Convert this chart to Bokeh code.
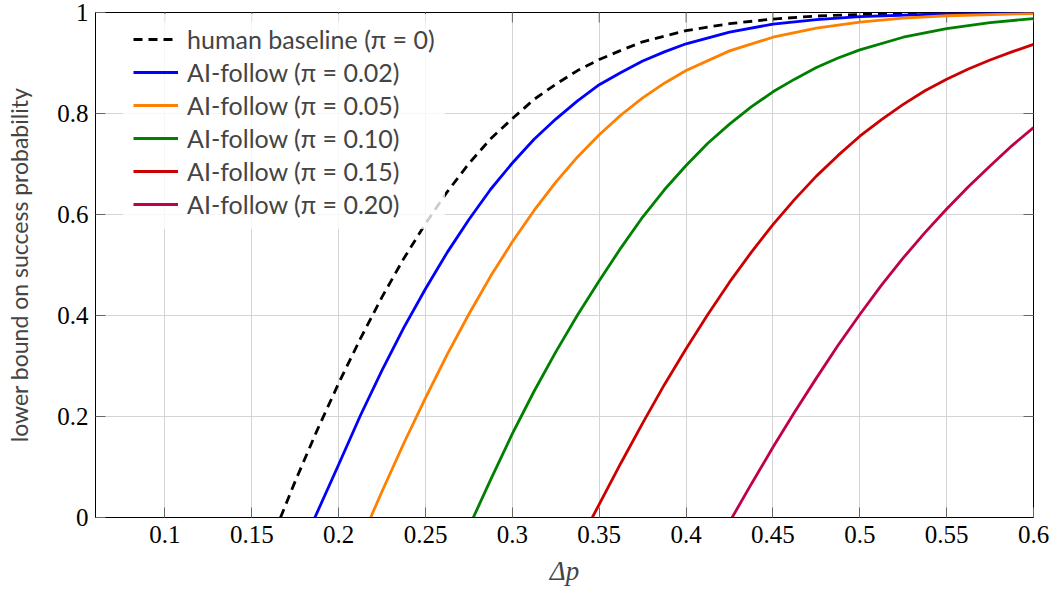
import math
from bokeh.plotting import figure
from bokeh.models import Range1d, FixedTicker, NumeralTickFormatter, Legend, LegendItem
from bokeh.embed import file_html
from bokeh.resources import INLINE

# ---- data ----
x_ticks = [0.1, 0.15, 0.2, 0.25, 0.3, 0.35, 0.4, 0.45, 0.5, 0.55, 0.6]
y_ticks = [0, 0.2, 0.4, 0.6, 0.8, 1.0]

labels = ["human baseline (π = 0)", "AI-follow (π = 0.02)", "AI-follow (π = 0.05)",
          "AI-follow (π = 0.10)", "AI-follow (π = 0.15)", "AI-follow (π = 0.20)"]

x_human = [0.1665, 0.175, 0.1875, 0.2, 0.2125, 0.225, 0.2375, 0.25, 0.2625, 0.275, 0.2875, 0.3,
           0.3125, 0.325, 0.3375, 0.35, 0.3625, 0.375, 0.3875, 0.4, 0.425, 0.45, 0.475, 0.5, 0.55, 0.6]
y_human = [0, 0.072, 0.172, 0.266, 0.354, 0.437, 0.513, 0.582, 0.645, 0.701, 0.750, 0.790,
           0.828, 0.858, 0.885, 0.907, 0.925, 0.942, 0.953, 0.964, 0.978, 0.987, 0.993, 0.996, 0.9985, 0.9995]

x_p02 = [0.1863, 0.2, 0.2125, 0.225, 0.2375, 0.25, 0.2625, 0.275, 0.2875, 0.3, 0.3125, 0.325,
         0.3375, 0.35, 0.3625, 0.375, 0.3875, 0.4, 0.425, 0.45, 0.475, 0.5, 0.55, 0.6]
y_p02 = [0, 0.105, 0.202, 0.292, 0.376, 0.453, 0.525, 0.590, 0.650, 0.702, 0.749, 0.789,
         0.825, 0.857, 0.881, 0.904, 0.922, 0.938, 0.961, 0.977, 0.986, 0.992, 0.9975, 0.9993]

x_p05 = [0.2184, 0.225, 0.2375, 0.25, 0.2625, 0.275, 0.2875, 0.3, 0.3125, 0.325, 0.3375, 0.35,
         0.3625, 0.375, 0.3875, 0.4, 0.425, 0.45, 0.475, 0.5, 0.525, 0.55, 0.6]
y_p05 = [0, 0.052, 0.147, 0.237, 0.323, 0.403, 0.478, 0.546, 0.608, 0.664, 0.714, 0.758,
         0.797, 0.831, 0.860, 0.885, 0.924, 0.951, 0.969, 0.981, 0.989, 0.9936, 0.998]

x_p10 = [0.2775, 0.2875, 0.3, 0.3125, 0.325, 0.3375, 0.35, 0.3625, 0.375, 0.3875, 0.4, 0.4125,
         0.425, 0.4375, 0.45, 0.4625, 0.475, 0.4875, 0.5, 0.525, 0.55, 0.575, 0.6]
y_p10 = [0, 0.075, 0.166, 0.250, 0.328, 0.401, 0.469, 0.534, 0.595, 0.649, 0.697, 0.741,
         0.779, 0.813, 0.843, 0.868, 0.891, 0.910, 0.926, 0.951, 0.968, 0.980, 0.988]

x_p15 = [0.346, 0.3625, 0.375, 0.3875, 0.4, 0.4125, 0.425, 0.4375, 0.45, 0.4625, 0.475, 0.4875,
         0.5, 0.5125, 0.525, 0.5375, 0.55, 0.5625, 0.575, 0.5875, 0.6]
y_p15 = [0, 0.108, 0.187, 0.263, 0.334, 0.402, 0.466, 0.525, 0.580, 0.630, 0.676, 0.717,
         0.755, 0.788, 0.818, 0.845, 0.868, 0.888, 0.906, 0.922, 0.937]

x_p20 = [0.4265, 0.4375, 0.45, 0.4625, 0.475, 0.4875, 0.5, 0.5125, 0.525, 0.5375, 0.55, 0.5625,
         0.575, 0.5875, 0.6]
y_p20 = [0, 0.066, 0.139, 0.209, 0.276, 0.341, 0.402, 0.460, 0.514, 0.564, 0.611, 0.655,
         0.696, 0.736, 0.772]

series_x = [x_human, x_p02, x_p05, x_p10, x_p15, x_p20]
series_y = [y_human, y_p02, y_p05, y_p10, y_p15, y_p20]
colors = ["#000000", "#0000ff", "#ff8000", "#008000", "#cc0000", "#c0004a"]
dashes = ["9 6", "solid", "solid", "solid", "solid", "solid"]

# ---- figure ----
W, H = 1052, 588
BT, BB, BL, BR = 12, 71, 95, 19
X0, X1, Y0, Y1 = 0.06, 0.6, 0.0, 1.0
p = figure(width=W, height=H, output_backend="svg", toolbar_location=None,
           x_range=Range1d(X0, X1), y_range=Range1d(Y0, Y1),
           min_border_left=BL, min_border_right=BR, min_border_top=BT, min_border_bottom=BB,
           background_fill_color="white", border_fill_color="white")
p.outline_line_color = "#000000"
p.outline_line_width = 1

serif = "Liberation Serif"
sans = "Lato"

xax = p.xaxis[0]
yax = p.yaxis[0]
xax.ticker = FixedTicker(ticks=x_ticks)
yax.ticker = FixedTicker(ticks=y_ticks)
for ax in (xax, yax):
    ax.formatter = NumeralTickFormatter(format="0.[00]")
    ax.major_tick_in = 10
    ax.major_tick_out = 0
    ax.minor_tick_line_color = None
    ax.major_tick_line_color = "#666666"
    ax.axis_line_color = "#000000"
    ax.major_label_text_font = serif
    ax.major_label_text_font_size = "25px"
    ax.major_label_text_color = "#000000"
xax.major_label_standoff = 8
yax.major_label_standoff = 7
xax.axis_label = "Δp"
xax.axis_label_text_font = serif
xax.axis_label_text_font_style = "italic"
xax.axis_label_text_font_size = "27px"
xax.axis_label_standoff = 10
yax.axis_label = "lower bound on success probability"
yax.axis_label_text_font = sans
yax.axis_label_text_font_style = "normal"
yax.axis_label_text_font_size = "23px"
yax.axis_label_standoff = 21

p.xgrid.grid_line_color = "#d4d4d4"
p.ygrid.grid_line_color = "#d4d4d4"
p.xgrid.grid_line_width = 1
p.ygrid.grid_line_width = 1

# mirrored inward ticks on the top and right edges
p.ray(x=x_ticks, y=[Y1] * len(x_ticks), length=10, length_units="screen",
      angle=-math.pi / 2, line_color="#666666", line_width=1)
p.ray(x=[X1] * len(y_ticks), y=y_ticks, length=10, length_units="screen",
      angle=math.pi, line_color="#666666", line_width=1)

items = []
for xs, ys, c, d, lab in zip(series_x, series_y, colors, dashes, labels):
    r = p.line(xs, ys, line_color=c, line_width=2.8, line_dash=d)
    items.append(LegendItem(label=lab, renderers=[r]))

frame_h = H - BT - BB
leg_h = 2 * 10 + 6 * 30 + 5 * 3
legend = Legend(items=items, location=(28, frame_h - leg_h - 2),
                label_text_font=sans, label_text_font_size="25px",
                glyph_width=45, glyph_height=30, label_height=30, label_standoff=9,
                spacing=3, padding=10, margin=0,
                background_fill_color="white", background_fill_alpha=0.8,
                border_line_alpha=0)
p.add_layout(legend, "center")

open("out.html", "w").write(file_html(p, INLINE))
